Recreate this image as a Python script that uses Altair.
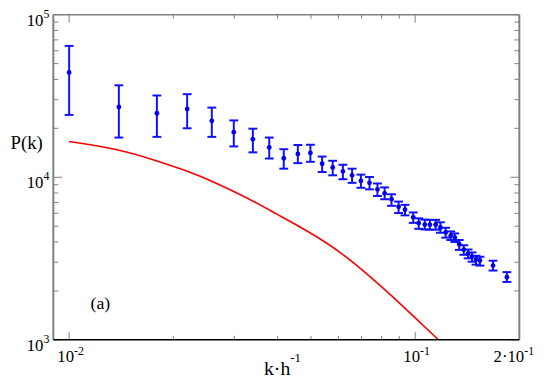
import altair as alt
import pandas as pd

# ---- data ----
k_obs = [0.0100, 0.01392, 0.01793, 0.02193, 0.02584, 0.02991, 0.03396, 0.03787, 0.04171, 0.04581,
         0.04980, 0.05385, 0.05777, 0.06182, 0.06572, 0.06969, 0.07380, 0.07780, 0.08161, 0.08543,
         0.08956, 0.09347, 0.09869, 0.1024, 0.1066, 0.1103, 0.1146, 0.1183, 0.1225, 0.1267,
         0.1302, 0.1341, 0.1382, 0.1422, 0.1460, 0.1499, 0.1539, 0.1679, 0.1841]
p_obs = [44080, 27050, 24770, 26300, 22250, 18920, 17160, 15260, 13090, 13920,
         14110, 12110, 11500, 10870, 10280, 9497, 9237, 8424, 7965, 7324,
         6580, 6310, 5667, 5226, 5118, 5111, 5111, 4909, 4577, 4370,
         4257, 3871, 3585, 3391, 3252, 3118, 3075, 2861, 2426]
p_hi = [64270, 36780, 31840, 32430, 26830, 22370, 19900, 17550, 14880, 15790,
        15850, 13410, 12630, 11940, 11290, 10380, 10040, 9158, 8663, 7856,
        7087, 6767, 6077, 5590, 5489, 5470, 5470, 5284, 4888, 4642,
        4514, 4111, 3817, 3595, 3448, 3289, 3243, 3067, 2609]
p_lo = [24190, 17550, 17720, 20010, 17720, 15480, 14230, 13040, 11290, 12210,
        12450, 10770, 10280, 9725, 9237, 8614, 8424, 7670, 7324, 6672,
        6026, 5829, 5241, 4819, 4773, 4760, 4760, 4558, 4251, 4111,
        3998, 3575, 3334, 3172, 3024, 2901, 2861, 2668, 2269]

k_model = [0.0100, 0.01386, 0.01762, 0.02193, 0.02612, 0.0332, 0.03958, 0.04924, 0.0613,
           0.07625, 0.0851, 0.0981, 0.1168]
p_model = [16600, 14920, 12770, 10950, 9390, 7360, 5970, 4640, 3450,
           2326, 1887, 1418, 1000]

x_major_ticks = [0.01, 0.1]
x_minor_ticks = [0.02, 0.03, 0.04, 0.05, 0.06, 0.07, 0.08, 0.09]
y_major_ticks = [1000, 10000, 100000]
y_minor_ticks = [2000, 3000, 4000, 5000, 6000, 7000, 8000, 9000,
                 20000, 30000, 40000, 50000, 60000, 70000, 80000, 90000]

x_label_k = [0.01, 0.1, 0.2]
x_label_base = ["10", "10", "2·10"]
x_label_exp = ["-2", "-1", "-1"]
y_label_p = [1000, 10000, 100000]
y_label_base = ["10", "10", "10"]
y_label_exp = ["3", "4", "5"]

panel_k = [0.01231]
panel_p = [1549]
panel_text = ["(a)"]

# ---- styling ----
W, H = 473, 330
FONT = "Liberation Serif"
BLUE = "#1010ff"
GRAY = "#808080"

xs = alt.Scale(type="log", domain=[0.009, 0.2])
ys = alt.Scale(type="log", domain=[1000, 100000])
X = alt.X("k:Q", scale=xs, axis=None)
Y = alt.Y("P:Q", scale=ys, axis=None)

obs = pd.DataFrame({"k": k_obs, "P": p_obs, "lo": p_lo, "hi": p_hi})
model = pd.DataFrame({"k": k_model, "P": p_model})
one = pd.DataFrame({"a": [0]})

bars = alt.Chart(obs).mark_rule(color=BLUE, strokeWidth=2).encode(
    x=X, y=alt.Y("lo:Q", scale=ys, axis=None), y2="hi:Q")
cap_hi = alt.Chart(obs).mark_point(shape="M-1,0L1,0", size=81, filled=False, strokeWidth=2,
                                   color=BLUE, opacity=1).encode(
    x=X, y=alt.Y("hi:Q", scale=ys, axis=None))
cap_lo = alt.Chart(obs).mark_point(shape="M-1,0L1,0", size=81, filled=False, strokeWidth=2,
                                   color=BLUE, opacity=1).encode(
    x=X, y=alt.Y("lo:Q", scale=ys, axis=None))
pts = alt.Chart(obs).mark_circle(size=24, color="#0000ee", opacity=1).encode(x=X, y=Y)

curve = alt.Chart(model).mark_line(color="#ff0000", strokeWidth=1.6, interpolate="basis",
                                   clip=True).encode(x=X, y=Y)

def xticks(vals, length):
    d = pd.DataFrame({"k": vals})
    b = alt.Chart(d).mark_rule(color=GRAY, strokeWidth=1).encode(
        x=X, y=alt.value(H), y2=alt.value(H - length))
    t = alt.Chart(d).mark_rule(color=GRAY, strokeWidth=1).encode(
        x=X, y=alt.value(0), y2=alt.value(length))
    return [b, t]

def yticks(vals, length):
    d = pd.DataFrame({"P": vals})
    l = alt.Chart(d).mark_rule(color=GRAY, strokeWidth=1).encode(
        y=Y, x=alt.value(0), x2=alt.value(length))
    r = alt.Chart(d).mark_rule(color=GRAY, strokeWidth=1).encode(
        y=Y, x=alt.value(W), x2=alt.value(W - length))
    return [l, r]

ticks = xticks(x_major_ticks, 8) + xticks(x_minor_ticks, 4) + \
    yticks(y_major_ticks, 9) + yticks(y_minor_ticks, 5)

frame = [
    alt.Chart(one).mark_rule(color=GRAY, strokeWidth=2).encode(
        x=alt.value(0), y=alt.value(0), y2=alt.value(H)),
    alt.Chart(one).mark_rule(color=GRAY, strokeWidth=2).encode(
        x=alt.value(W), y=alt.value(0), y2=alt.value(H)),
    alt.Chart(one).mark_rule(color=GRAY, strokeWidth=1.5).encode(
        x=alt.value(0), x2=alt.value(W), y=alt.value(0)),
    alt.Chart(one).mark_rule(color="#000000", strokeWidth=1.5).encode(
        x=alt.value(0), x2=alt.value(W), y=alt.value(H)),
]

xlab = pd.DataFrame({"k": x_label_k, "base": x_label_base, "exp": x_label_exp})
ylab = pd.DataFrame({"P": y_label_p, "base": y_label_base, "exp": y_label_exp})

labels = [
    alt.Chart(xlab).mark_text(align="right", baseline="alphabetic", dx=5, font=FONT,
                              fontSize=17, color="black").encode(
        x=X, y=alt.value(H + 23), text="base:N"),
    alt.Chart(xlab).mark_text(align="left", baseline="alphabetic", dx=5, font=FONT,
                              fontSize=12, color="black").encode(
        x=X, y=alt.value(H + 15), text="exp:N"),
    alt.Chart(ylab).mark_text(align="right", baseline="alphabetic", dy=11, font=FONT,
                              fontSize=17, color="black").encode(
        y=Y, x=alt.value(-10), text="base:N"),
    alt.Chart(ylab).mark_text(align="left", baseline="alphabetic", dy=3, font=FONT,
                              fontSize=12, color="black").encode(
        y=Y, x=alt.value(-10), text="exp:N"),
    alt.Chart(one).mark_text(text="P(k)", align="center", baseline="alphabetic", font=FONT,
                             fontSize=19, color="black").encode(
        x=alt.value(-27), y=alt.value(136)),
    alt.Chart(one).mark_text(text="k·h", align="right", baseline="alphabetic", font=FONT,
                             fontSize=20, color="black").encode(
        x=alt.value(W / 2 + 4), y=alt.value(H + 36)),
    alt.Chart(one).mark_text(text="-1", align="left", baseline="alphabetic", font=FONT,
                             fontSize=13, color="black").encode(
        x=alt.value(W / 2 + 4), y=alt.value(H + 23)),
    alt.Chart(pd.DataFrame({"k": panel_k, "P": panel_p, "t": panel_text})).mark_text(
        align="center", baseline="alphabetic", font=FONT, fontSize=18, color="black").encode(
        x=X, y=Y, text="t:N"),
]

chart = alt.layer(curve, bars, cap_hi, cap_lo, pts, *ticks, *frame, *labels).properties(
    width=W, height=H,
    padding={"left": 46, "top": 4, "right": 22, "bottom": 39},
    autosize=alt.AutoSizeParams(type="none"),
).configure_view(stroke="transparent")

chart.save("out.html", embed_options={"renderer": "svg", "actions": False})
